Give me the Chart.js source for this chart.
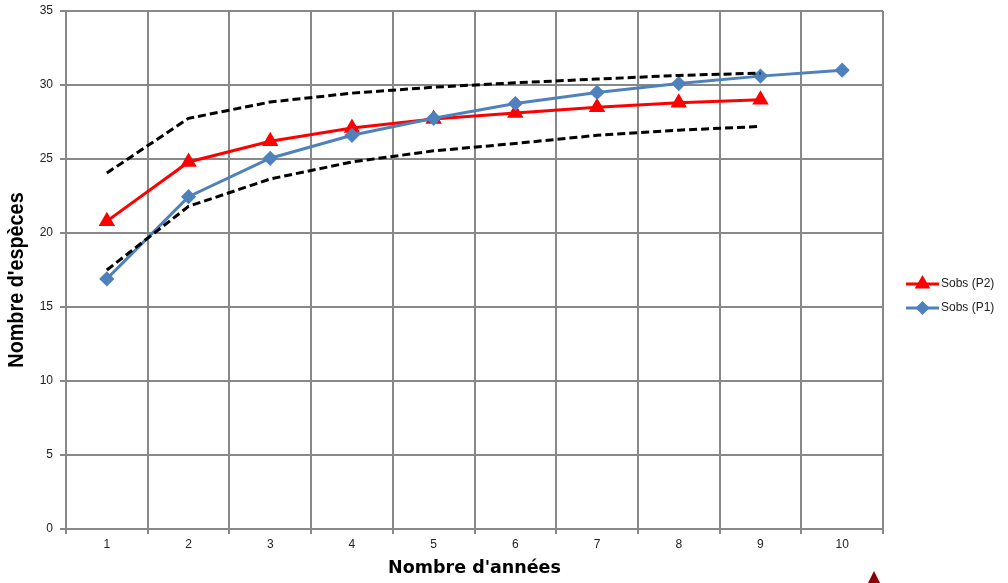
<!DOCTYPE html>
<html>
<head>
<meta charset="utf-8">
<script src="https://cdn.jsdelivr.net/npm/chart.js@4/dist/chart.umd.min.js"></script>
<style>
  html, body { margin: 0; padding: 0; background: #fff; }
  #wrap { position: relative; width: 1008px; height: 583px; overflow: hidden; }
  #mark { position: absolute; left: 866px; top: 571px; width: 0; height: 0;
          border-left: 8px solid transparent; border-right: 8px solid transparent;
          border-bottom: 16px solid #8b0000; }
</style>
</head>
<body>
<div id="wrap">
  <canvas id="c" width="1008" height="583"></canvas>
  <div id="mark"></div>
</div>
<script>
// Années d'échantillonnage
const annees = ['1', '2', '3', '4', '5', '6', '7', '8', '9', '10'];

// Richesse observée cumulée par placette
const sobsP2 = [20.8, 24.8, 26.2, 27.1, 27.7, 28.1, 28.5, 28.8, 29.0, null];
const sobsP1 = [16.9, 22.45, 25.05, 26.6, 27.75, 28.75, 29.5, 30.1, 30.6, 31.0];

// Intervalle de confiance (P2)
const icHaut = [24.05, 27.75, 28.85, 29.45, 29.85, 30.15, 30.4, 30.65, 30.8, null];
const icBas  = [17.5, 21.8, 23.65, 24.8, 25.55, 26.05, 26.6, 26.95, 27.2, null];

// Graduations de l'axe vertical
const yMin = 0, yMax = 35, yPas = 5;

const titreX = "Nombre d'années";
const titreY = "Nombre d'espèces";

const legendItems = [
  { label: 'Sobs (P2)', color: '#ff0000', style: 'triangle' },
  { label: 'Sobs (P1)', color: '#4f81bd', style: 'rectRot' }
];

// Légende à droite : trait + marqueur + libellé
const sideLegend = {
  id: 'sideLegend',
  afterDraw(chart) {
    const ctx = chart.ctx;
    const x0 = chart.chartArea.right + 23;
    const yMid = (chart.chartArea.top + chart.chartArea.bottom) / 2;
    legendItems.forEach((it, i) => {
      const y = yMid + 14 + i * 24;
      ctx.save();
      ctx.strokeStyle = it.color;
      ctx.lineWidth = 3;
      ctx.beginPath();
      ctx.moveTo(x0, y);
      ctx.lineTo(x0 + 33, y);
      ctx.stroke();
      ctx.fillStyle = it.color;
      ctx.strokeStyle = it.color;
      Chart.helpers.drawPoint(ctx, {
        pointStyle: it.style, radius: it.style === 'triangle' ? 6 : 5, borderWidth: 1
      }, x0 + 16.5, y);
      ctx.fillStyle = '#222';
      ctx.font = '12px "Liberation Sans", Arial, sans-serif';
      ctx.textBaseline = 'middle';
      ctx.textAlign = 'left';
      ctx.fillText(it.label, x0 + 35, y);
      ctx.restore();
    });
  }
};

// Titre vertical en police étroite
const yTitle = {
  id: 'yTitle',
  afterDraw(chart) {
    const ctx = chart.ctx;
    const yc = (chart.chartArea.top + chart.chartArea.bottom) / 2 + 10;
    ctx.save();
    ctx.translate(17, yc);
    ctx.rotate(-Math.PI / 2);
    ctx.scale(0.9, 1);
    ctx.font = 'bold 22px "Liberation Sans", Arial, sans-serif';
    ctx.fillStyle = '#000';
    ctx.textAlign = 'center';
    ctx.textBaseline = 'middle';
    ctx.fillText(titreY, 0, 0);
    ctx.restore();
  }
};

const dashed = {
  borderColor: '#000', borderWidth: 3, borderDash: [8, 4],
  pointRadius: 0, fill: false, tension: 0, order: 0
};

const tickFont = { size: 12, family: '"Liberation Sans", Arial, sans-serif' };

new Chart(document.getElementById('c'), {
  type: 'line',
  data: {
    labels: annees,
    datasets: [
      Object.assign({ label: 'IC haut', data: icHaut }, dashed),
      Object.assign({ label: 'IC bas', data: icBas }, dashed),
      {
        label: 'Sobs (P1)', data: sobsP1, borderColor: '#4f81bd', backgroundColor: '#4f81bd',
        borderWidth: 3, pointStyle: 'rectRot', pointRadius: 5.5, tension: 0, order: 1
      },
      {
        label: 'Sobs (P2)', data: sobsP2, borderColor: '#ff0000', backgroundColor: '#ff0000',
        borderWidth: 3, pointStyle: 'triangle', pointRadius: 6.5, tension: 0, order: 2
      }
    ]
  },
  options: {
    responsive: false,
    animation: false,
    layout: { padding: { top: 11, right: 125, left: 0, bottom: 0 } },
    plugins: { legend: { display: false }, tooltip: { enabled: false } },
    scales: {
      x: {
        offset: true,
        grid: { offset: true, color: '#888', lineWidth: 2, drawTicks: true, tickLength: 5 },
        border: { color: '#888', width: 2 },
        ticks: { color: '#222', font: tickFont, padding: 3 },
        title: {
          display: true, text: titreX, color: '#000',
          font: { size: 17.5, weight: 'bold', family: '"DejaVu Sans", Verdana, sans-serif' },
          padding: { top: 0, bottom: 4 }
        },
        afterFit(scale) { scale.height = 54; scale.paddingLeft = 0; scale.paddingRight = 0; }
      },
      y: {
        min: yMin, max: yMax,
        ticks: { stepSize: yPas, color: '#222', font: tickFont, padding: 7 },
        grid: { color: '#888', lineWidth: 2, tickLength: 6 },
        border: { color: '#888', width: 2 },
        title: { display: false },
        afterFit(scale) { scale.width = 66; scale.paddingTop = 0; scale.paddingBottom = 0; }
      }
    }
  },
  plugins: [sideLegend, yTitle]
});
</script>
</body>
</html>
